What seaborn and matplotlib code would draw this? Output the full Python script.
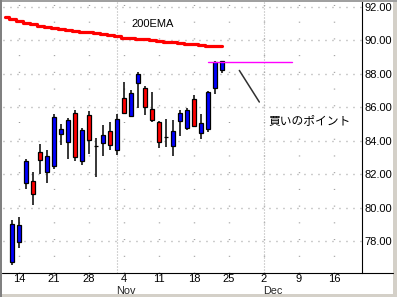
import numpy as np
import matplotlib
matplotlib.use("Agg")
import matplotlib.pyplot as plt
import matplotlib.transforms as mtrans
from matplotlib.lines import Line2D
from matplotlib.patches import Rectangle
import seaborn as sns

# ---------------- data ----------------
dates = ["2002-10-11", "2002-10-14", "2002-10-15", "2002-10-16", "2002-10-17", "2002-10-18",
         "2002-10-21", "2002-10-22", "2002-10-23", "2002-10-24", "2002-10-25",
         "2002-10-28", "2002-10-29", "2002-10-30", "2002-10-31", "2002-11-01",
         "2002-11-04", "2002-11-05", "2002-11-06", "2002-11-07", "2002-11-08",
         "2002-11-11", "2002-11-12", "2002-11-13", "2002-11-14", "2002-11-15",
         "2002-11-18", "2002-11-19", "2002-11-20", "2002-11-21", "2002-11-22"]
opens = [76.75, 77.94, 81.47, 81.59, 83.33, 82.13,
         82.47, 84.40, 83.96, 85.66, 82.79,
         85.54, 83.69, 83.87, 84.56, 83.47,
         86.56, 85.50, 87.45, 87.16, 85.90,
         85.12, 84.24, 83.72, 85.16, 84.76,
         86.50, 84.46, 84.68, 87.16, 88.23]
highs = [79.24, 79.44, 82.91, 82.11, 83.82, 83.47,
         85.62, 85.02, 85.36, 85.86, 84.76,
         85.80, 84.17, 84.94, 85.12, 85.60,
         87.49, 87.05, 88.13, 87.25, 86.93,
         85.18, 85.32, 85.22, 85.84, 85.98,
         86.74, 85.62, 86.95, 88.79, 88.78]
lows = [76.55, 77.59, 81.11, 80.18, 82.03, 81.47,
        82.31, 83.78, 82.93, 82.81, 82.53,
        83.24, 81.81, 83.12, 83.47, 83.17,
        85.60, 85.45, 85.96, 85.54, 85.12,
        83.59, 83.63, 83.12, 84.30, 84.64,
        84.85, 84.14, 84.50, 86.83, 88.05]
closes = [79.02, 78.96, 82.79, 80.82, 82.85, 83.09,
          85.42, 84.70, 85.24, 83.03, 84.62,
          84.05, 83.69, 84.34, 83.75, 85.30,
          85.66, 86.86, 87.99, 86.04, 85.24,
          83.94, 84.24, 84.58, 85.66, 85.84,
          84.88, 85.06, 86.92, 88.69, 88.75]

ema_dates = ["2002-10-10"] + dates
ema_values = [91.38, 91.28, 91.18, 91.05, 90.96, 90.86, 90.82,
              90.77, 90.70, 90.64, 90.58, 90.53,
              90.49, 90.43, 90.36, 90.30, 90.24,
              90.16, 90.12, 90.09, 90.06, 90.03,
              89.97, 89.91, 89.88, 89.85, 89.81,
              89.76, 89.73, 89.69, 89.64, 89.64]

buy_level = 88.71
buy_dates = ["2002-11-20", "2002-12-06"]
pointer_x = [31.47, 34.33]
pointer_y = [88.21, 86.32]

tick_dates = ["2002-10-14", "2002-10-21", "2002-10-28", "2002-11-04", "2002-11-11",
              "2002-11-18", "2002-11-25", "2002-12-02", "2002-12-09", "2002-12-16"]
tick_labels = ["14", "21", "28", "4", "11", "18", "25", "2", "9", "16"]
month_dates = ["2002-11-01", "2002-12-02"]
month_labels = ["Nov", "Dec"]
y_ticks = [78, 80, 82, 84, 86, 88, 90, 92]

ema_label = "200EMA"
buy_label = "買いのポイント"

# ---------------- helpers ----------------
base = "2002-10-14"
def tpos(ds):
    return np.array([np.busday_count(base, d) if d >= base else -np.busday_count(d, base)
                     for d in ds], dtype=float)

pos = tpos(dates)
ema_pos = tpos(ema_dates)
tick_pos = tpos(tick_dates)
month_pos = tpos(month_dates)
buy_pos = tpos(buy_dates)

o = np.array(opens); c = np.array(closes)
h = np.array(highs); l = np.array(lows)

# ---------------- figure ----------------
sns.set_style("white")
plt.rcParams["font.family"] = ["Liberation Sans", "DejaVu Sans"]

W, H = 397, 297
fig = plt.figure(figsize=(W / 100, H / 100), dpi=100, facecolor="#d4d0c8")

def fx(px):
    return px / W
def fy(py):
    return 1 - py / H

# window: white area with sunken border
fig.patches.append(Rectangle((fx(2), fy(294)), fx(391), 292 / H, transform=fig.transFigure,
                             facecolor="white", edgecolor="none", zorder=-3))
fig.patches.append(Rectangle((0, fy(2)), 1, 2 / H, transform=fig.transFigure,
                             facecolor="#a0a0a0", edgecolor="none", zorder=-2))
fig.patches.append(Rectangle((0, 0), fx(2), 1, transform=fig.transFigure,
                             facecolor="#808080", edgecolor="none", zorder=-2))

ax = fig.add_axes([fx(3), fy(273), fx(359), 271 / H])
ax.set_zorder(5)
ax.set_facecolor("white")
ax.set_xlim(-2.3, 49.0)
ax.set_ylim(76.1, 92.3)

# grid
for v in y_ticks:
    ax.axhline(v, color="#9a9a9a", lw=1.0, ls=(0, (0.7, 4.34)), zorder=0)
for p in tick_pos:
    ax.axvline(p, color="#9a9a9a", lw=1.0, ls=(0, (0.7, 11.34)), zorder=0)
for p in month_pos:
    ax.axvline(p, color="#a8a8a8", lw=0.8, ls=(0, (0.9, 1.8)), zorder=0)

# EMA line via seaborn
sns.lineplot(x=ema_pos, y=ema_values, ax=ax, color="#ff0000", lw=2.3,
             drawstyle="steps-mid", zorder=2)

# candles
colors = np.where(c > o, "#0000ff", np.where(c < o, "#ff0000", "black"))
ax.vlines(pos, l, h, color="black", lw=1.1, zorder=3)
ax.bar(pos, np.abs(c - o), bottom=np.minimum(o, c), width=0.68, color=colors,
       edgecolor="black", linewidth=0.9, zorder=4)

# buy point line and pointer
ax.plot(buy_pos, [buy_level, buy_level], color="#ff00ff", lw=1.0, zorder=5)
ax.plot(pointer_x, pointer_y, color="#303030", lw=1.1, zorder=5)

ax.text(16.1, 91.0, ema_label, fontsize=8, ha="left", va="center",
        family=["Liberation Sans", "DejaVu Sans"], color="black")
ax.text(35.6, 85.2, buy_label, fontsize=8.5, ha="left", va="center",
        family=["Noto Sans CJK JP", "DejaVu Sans"], color="black")

# axes styling
for s in ["left", "top", "bottom"]:
    ax.spines[s].set_visible(False)
ax.spines["right"].set_visible(True)
ax.spines["right"].set_color("black")
ax.spines["right"].set_linewidth(0.8)

ax.yaxis.tick_right()
ax.set_yticks(y_ticks)
ax.set_yticklabels([f"{v:.2f}" for v in y_ticks])
ax.set_xticks(tick_pos)
ax.set_xticklabels(tick_labels)
ax.tick_params(axis="both", length=0, labelsize=8, colors="black")
ax.tick_params(axis="y", pad=1.5)
ax.tick_params(axis="x", pad=0.8)
ax.set_xlabel("")
ax.set_ylabel("")
ax.grid(False)

trans = mtrans.blended_transform_factory(ax.transData, fig.transFigure)
for p, lab in zip(month_pos, month_labels):
    ax.text(p - 0.1, fy(293.5), lab, transform=trans, fontsize=7.8, ha="left",
            va="baseline", clip_on=False)

# bottom axis line spanning to the right border
fig.lines.append(Line2D([fx(2), fx(393)], [fy(273), fy(273)], transform=fig.transFigure,
                        color="black", lw=0.8, zorder=10))

fig.savefig("out.png", dpi=100, facecolor=fig.get_facecolor())
